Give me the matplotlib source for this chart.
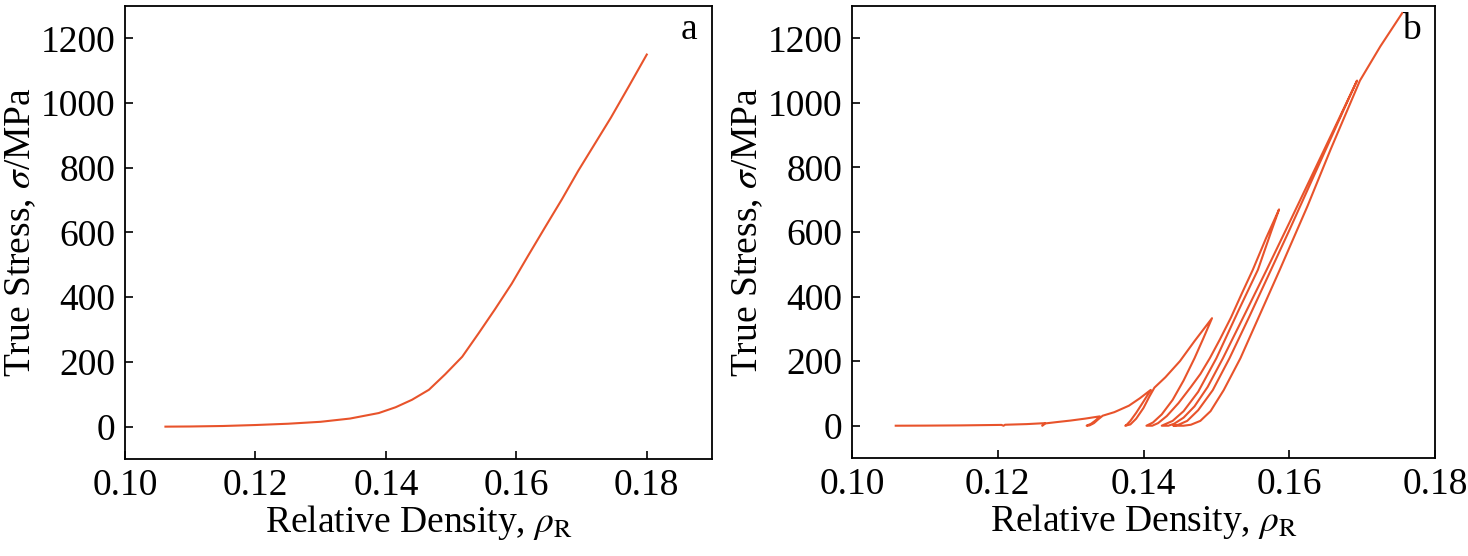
import matplotlib
matplotlib.use("Agg")
import matplotlib.pyplot as plt

# panel a: monotonic compression
rho_a = [0.1062, 0.110, 0.115, 0.120, 0.125, 0.130, 0.1345, 0.1389, 0.1415,
         0.1440, 0.1466, 0.1491, 0.1517, 0.1542, 0.1567, 0.1593, 0.1618,
         0.1644, 0.1670, 0.1695, 0.1720, 0.1745, 0.1772, 0.180]
sig_a = [0, 0.5, 2, 5, 9, 15, 25, 42, 60, 83, 114, 162, 216, 288, 362, 442,
         528, 616, 703, 791, 873, 955, 1050, 1150]

# panel b: loading with unload/reload cycles, one continuous path
rho_b = [
    # first loading with small dips
    0.106, 0.110, 0.115, 0.1205, 0.1208, 0.1210, 0.124, 0.1265, 0.1261,
    0.1265, 0.128, 0.130, 0.132, 0.1340,
    0.1334, 0.1328, 0.1322, 0.1326, 0.1332, 0.1338, 0.1344,
    0.1360, 0.1380, 0.1395, 0.1410,
    0.1400, 0.1390, 0.1382, 0.1377, 0.1375, 0.1382, 0.1390, 0.1400,
    0.1408, 0.1415, 0.1430, 0.1450, 0.1470, 0.1494,
    # unload / reload 4
    0.1482, 0.1470, 0.1455, 0.1440, 0.1425, 0.1413, 0.1404,
    0.1412, 0.1420, 0.1432, 0.1448, 0.1465, 0.1478, 0.1491, 0.1505,
    0.1520, 0.1535, 0.1550, 0.1568, 0.1586,
    # unload / reload 5
    0.1575, 0.1557, 0.1530, 0.1500, 0.1475, 0.1455, 0.1440, 0.1425,
    0.1434, 0.1442, 0.1455, 0.1470, 0.1488, 0.1509, 0.1540, 0.1569,
    0.1600, 0.1630, 0.1660, 0.1693,
    # unload / reload 6
    0.1680, 0.1640, 0.1600, 0.1575, 0.1545, 0.1518, 0.1495, 0.1475,
    0.1460, 0.1448, 0.1441,
    0.1455, 0.1465, 0.1478, 0.1492, 0.1510, 0.1533, 0.1587, 0.1625,
    0.1657, 0.1697, 0.1725, 0.1755]
sig_b = [
    0, 0.3, 1, 2.5, 0, 3, 5, 8, 0,
    7, 11, 16, 22, 29,
    16, 6, 0, 1, 8, 20, 31,
    42, 62, 85, 111,
    75, 40, 15, 3, 0, 4, 22, 55,
    90, 118, 150, 200, 262, 333,
    270, 209, 140, 80, 35, 10, 0,
    0, 8, 30, 70, 120, 160, 209, 268,
    335, 410, 483, 580, 670,
    600, 483, 355, 209, 105, 45, 15, 0,
    0, 6, 25, 60, 120, 209, 350, 483,
    628, 770, 912, 1069,
    1005, 805, 605, 483, 337, 209, 110, 48,
    15, 3, 0,
    0, 3, 15, 45, 110, 209, 483, 680,
    857, 1069, 1175, 1278]

x_ticks_a = [0.10, 0.12, 0.14, 0.16, 0.18]
x_ticks_b = [0.10, 0.12, 0.14, 0.16, 0.18]
y_ticks = [0, 200, 400, 600, 800, 1000, 1200]

plt.rcParams['font.family'] = ['Liberation Serif', 'DejaVu Serif']
plt.rcParams['mathtext.fontset'] = 'stix'

color = '#e8532b'
fs = 27
fig = plt.figure(figsize=(14.68, 5.56), dpi=100)
ax_a = fig.add_axes([125 / 1468, 1 - 459 / 556, (712 - 125) / 1468, (459 - 6) / 556])
ax_b = fig.add_axes([852 / 1468, 1 - 458 / 556, (1435 - 852) / 1468, (458 - 6) / 556])

panels = [(ax_a, rho_a, sig_a, (0.10, 0.19), x_ticks_a, 'a'),
          (ax_b, rho_b, sig_b, (0.10, 0.18), x_ticks_b, 'b')]
for ax, x, y, xlim, xt, tag in panels:
    ax.plot(x, y, color=color, lw=1.5, solid_joinstyle='round')
    ax.set_xlim(*xlim)
    ax.set_ylim(-100, 1300)
    ax.set_xticks(xt)
    ax.set_xticklabels(['%.2f' % v for v in xt])
    ax.set_yticks(y_ticks)
    ax.tick_params(direction='in', length=6, width=1.2, labelsize=fs, pad=7)
    for s in ax.spines.values():
        s.set_linewidth(1.3)
    ax.set_xlabel(r'Relative Density, $\rho_{\mathrm{R}}$', fontsize=fs, labelpad=0)
    ax.set_ylabel(r'True Stress, $\sigma$/MPa', fontsize=fs, labelpad=2)
    ax.text(0.975, 0.985, tag, transform=ax.transAxes, ha='right', va='top', fontsize=fs)

fig.savefig('out.png', dpi=100)
